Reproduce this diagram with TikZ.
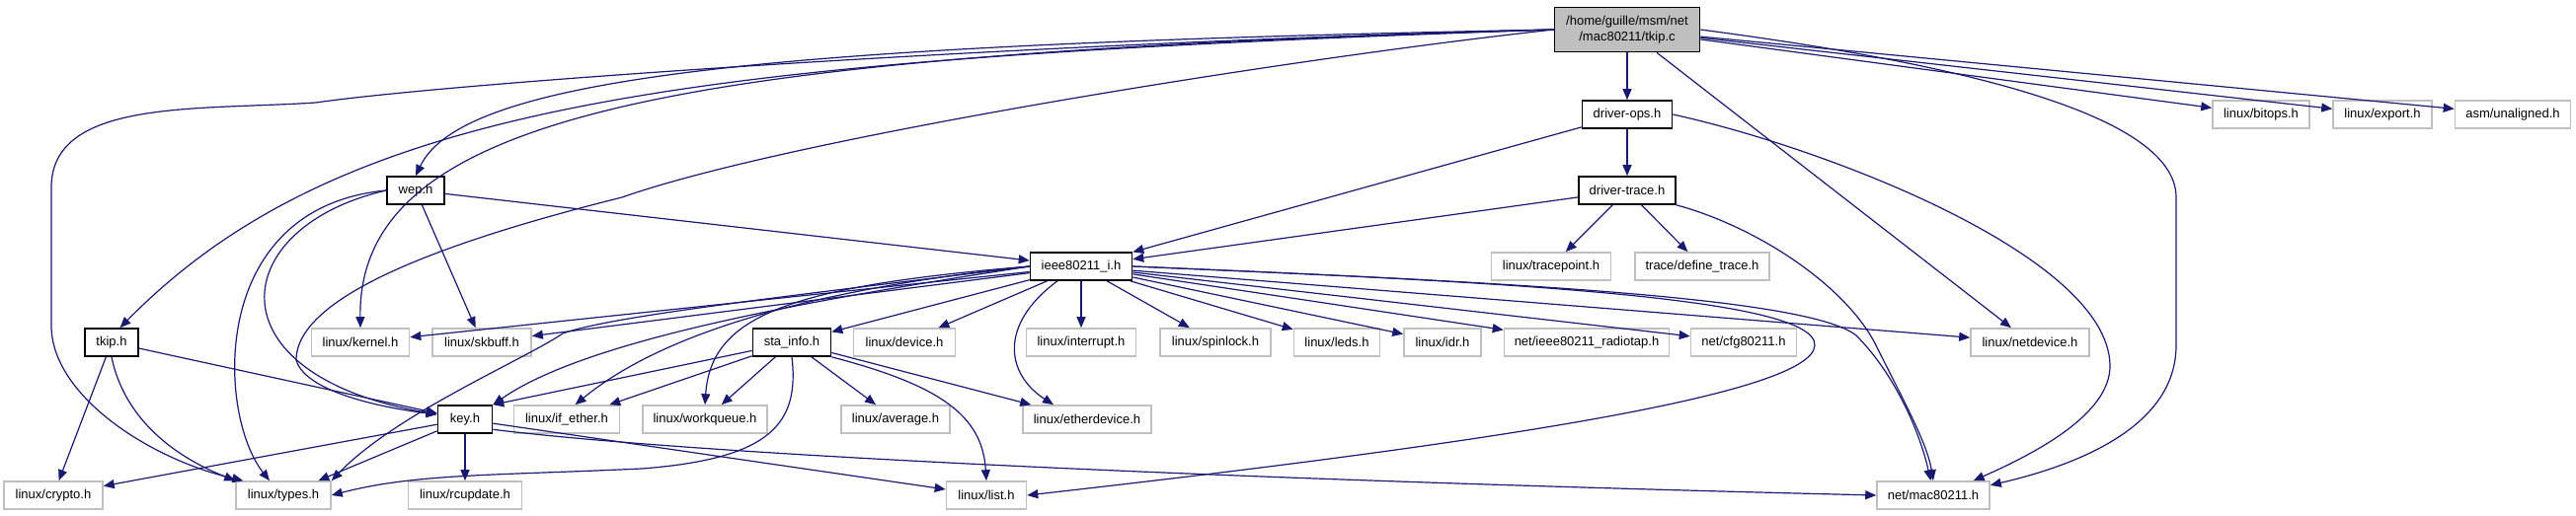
\documentclass[tikz,border=0pt]{standalone}
\usepackage{fontspec}
\setmainfont{Liberation Sans}
\usepackage{tikz}
\usetikzlibrary{arrows.meta}
\definecolor{edgeblue}{HTML}{191970}
\tikzset{
    srcfile/.style={rectangle, draw=black, line width=0.8pt, fill=gray!50, minimum height=22.5pt, inner sep=0pt, align=center, font=\fontsize{6.5}{8}\selectfont},
    localhdr/.style={rectangle, draw=black, line width=0.8pt, fill=white, minimum height=14pt, inner sep=0pt, font=\fontsize{6.5}{8}\selectfont},
    syshdr/.style={rectangle, draw=gray!50, line width=0.8pt, fill=white, minimum height=14pt, inner sep=0pt, font=\fontsize{6.5}{8}\selectfont},
    incl/.style={draw=edgeblue, line width=0.6pt, -{Triangle[length=5.5pt,width=4.5pt]}}
}

\begin{document}
\begin{tikzpicture}[x=0.5pt, y=-0.5pt]
        \useasboundingbox (0,0) rectangle (2609,523);

        % tkip.c and the headers below it
        \node[srcfile, minimum width=73.5pt] (tkipc) at (1648,30) {/home/guille/msm/net\\/mac80211/tkip.c};
        \node[localhdr, minimum width=45.5pt] (drvops) at (1648,116) {driver-ops.h};
        \node[syshdr, minimum width=49pt] (bitops) at (2290,116) {linux/bitops.h};
        \node[syshdr, minimum width=50pt] (export) at (2413,116) {linux/export.h};
        \node[syshdr, minimum width=58.5pt] (unaligned) at (2545,116) {asm/unaligned.h};
        \node[localhdr, minimum width=29pt] (wep) at (421,193) {wep.h};
        \node[localhdr, minimum width=49pt] (drvtrace) at (1648,193) {driver-trace.h};
        \node[localhdr, minimum width=51.5pt] (ieee) at (1095,270) {ieee80211\_i.h};
        \node[syshdr, minimum width=60.5pt] (tracepoint) at (1571,270) {linux/tracepoint.h};
        \node[syshdr, minimum width=68pt] (definetrace) at (1724,270) {trace/define\_trace.h};

        \node[localhdr, minimum width=27pt] (tkiph) at (113,347) {tkip.h};
        \node[syshdr, minimum width=49.5pt] (kernel) at (365,347) {linux/kernel.h};
        \node[syshdr, minimum width=50pt] (skbuff) at (488,347) {linux/skbuff.h};
        \node[localhdr, minimum width=39.5pt] (stainfo) at (802,347) {sta\_info.h};
        \node[syshdr, minimum width=51.5pt] (device) at (916,347) {linux/device.h};
        \node[syshdr, minimum width=55.5pt] (interrupt) at (1095,347) {linux/interrupt.h};
        \node[syshdr, minimum width=56pt] (spinlock) at (1231,347) {linux/spinlock.h};
        \node[syshdr, minimum width=43.5pt] (leds) at (1354,347) {linux/leds.h};
        \node[syshdr, minimum width=39pt] (idr) at (1461,347) {linux/idr.h};
        \node[syshdr, minimum width=83.5pt] (radiotap) at (1607,347) {net/ieee80211\_radiotap.h};
        \node[syshdr, minimum width=53.5pt] (cfg) at (1766,347) {net/cfg80211.h};
        \node[syshdr, minimum width=60pt] (netdevice) at (2056,347) {linux/netdevice.h};

        \node[localhdr, minimum width=27.5pt] (keyh) at (471,425) {key.h};
        \node[syshdr, minimum width=53.5pt] (ifether) at (574,425) {linux/if\_ether.h};
        \node[syshdr, minimum width=63pt] (workqueue) at (714,425) {linux/workqueue.h};
        \node[syshdr, minimum width=55pt] (average) at (907,425) {linux/average.h};
        \node[syshdr, minimum width=65pt] (etherdevice) at (1101,425) {linux/etherdevice.h};

        \node[syshdr, minimum width=50pt] (crypto) at (54,502) {linux/crypto.h};
        \node[syshdr, minimum width=48pt] (types) at (287,502) {linux/types.h};
        \node[syshdr, minimum width=57.5pt] (rcupdate) at (471,502) {linux/rcupdate.h};
        \node[syshdr, minimum width=40.5pt] (list) at (999,502) {linux/list.h};
        \node[syshdr, minimum width=57pt] (mac) at (1958,502) {net/mac80211.h};

        % includes of tkip.c
        \path (tkipc) edge[incl] (drvops);
        \path (tkipc) edge[incl] (bitops);
        \path (tkipc) edge[incl] (export);
        \path (tkipc) edge[incl] (unaligned);
        \path (tkipc) edge[incl] (netdevice);
        \draw[incl] (tkipc.east) .. controls (1950,60) and (2204,110) .. (2204,200) -- (2204,350) .. controls (2204,430) and (2110,470) .. (mac.10);
        \draw[incl] (tkipc.west) .. controls (800,45) and (470,75) .. (wep.north);
        \draw[incl] (tkipc.west) .. controls (700,60) and (350,100) .. (tkiph.60);
        \draw[incl] (tkipc.west) .. controls (700,55) and (362,110) .. (kernel.north);
        \draw[incl] (tkipc.west) .. controls (1000,45) and (450,85) .. (320,104) .. controls (200,112) and (52,100) .. (52,190) -- (52,330) .. controls (52,400) and (150,465) .. (types.160);
        \draw[incl] (tkipc.west) .. controls (1300,60) and (800,140) .. (630,200) .. controls (450,245) and (300,300) .. (300,365) .. controls (310,400) and (400,415) .. (keyh.170);

        % driver-ops.h and driver-trace.h
        \path (drvops) edge[incl] (ieee);
        \path (drvops) edge[incl] (drvtrace);
        \draw[incl] (drvops.east) .. controls (1850,150) and (2135,260) .. (2137,370) .. controls (2138,420) and (2060,460) .. (mac.20);
        \path (drvtrace) edge[incl] (ieee);
        \path (drvtrace) edge[incl] (tracepoint);
        \path (drvtrace) edge[incl] (definetrace);
        \draw[incl] (drvtrace.south east) .. controls (1780,230) and (1870,290) .. (1900,350) .. controls (1930,410) and (1952,450) .. (mac.north);

        % ieee80211_i.h
        \path (ieee) edge[incl] (kernel);
        \path (ieee) edge[incl] (skbuff);
        \path (ieee) edge[incl] (stainfo);
        \path (ieee) edge[incl] (device);
        \path (ieee) edge[incl] (interrupt);
        \path (ieee) edge[incl] (spinlock);
        \path (ieee) edge[incl] (leds);
        \path (ieee) edge[incl] (idr);
        \path (ieee) edge[incl] (radiotap);
        \path (ieee) edge[incl] (cfg);
        \path (ieee) edge[incl] (netdevice);
        \draw[incl] (ieee.west) .. controls (850,300) and (600,340) .. (keyh.north east);
        \draw[incl] (ieee.west) .. controls (850,290) and (680,330) .. (ifether.60);
        \draw[incl] (ieee.west) .. controls (800,290) and (720,320) .. (workqueue.north);
        \draw[incl] (ieee.west) .. controls (800,300) and (620,320) .. (570,338) .. controls (530,365) and (400,420) .. (types.north east);
        \draw[incl] ([xshift=-12pt]ieee.south) .. controls (1010,330) and (1020,380) .. ([xshift=-17pt]etherdevice.north);
        \draw[incl] (ieee.east) .. controls (1500,285) and (1830,300) .. (1880,340) .. controls (1920,380) and (1945,440) .. (mac.100);
        \draw[incl] (ieee.east) .. controls (1500,285) and (1840,300) .. (1838,350) .. controls (1836,400) and (1500,450) .. (list.east);

        % wep.h and tkip.h
        \path (wep) edge[incl] (ieee);
        \path (wep) edge[incl] (skbuff);
        \draw[incl] (wep.west) .. controls (210,210) and (220,420) .. ([xshift=-7pt]types.north);
        \draw[incl] (wep.west) .. controls (230,230) and (210,380) .. (keyh.170);
        \path (tkiph) edge[incl] (keyh);
        \path (tkiph) edge[incl] (crypto);
        \draw[incl] (tkiph.south) .. controls (125,420) and (170,460) .. (types.north west);

        % sta_info.h
        \path (stainfo) edge[incl] (keyh.north east);
        \path (stainfo) edge[incl] (ifether);
        \path (stainfo) edge[incl] (workqueue);
        \path (stainfo) edge[incl] (average);
        \path (stainfo) edge[incl] (etherdevice);
        \draw[incl] (stainfo.south east) .. controls (950,390) and (995,420) .. (list.north);
        \draw[incl] (stainfo.south) .. controls (810,430) and (780,465) .. (650,475) .. controls (500,482) and (420,480) .. (types.east);

        % key.h
        \path (keyh) edge[incl] (crypto);
        \path (keyh) edge[incl] (types);
        \path (keyh) edge[incl] (rcupdate);
        \path (keyh) edge[incl] (list);
        \draw[incl] (keyh.-20) .. controls (700,460) and (1200,485) .. (mac.west);

\end{tikzpicture}
\end{document}
